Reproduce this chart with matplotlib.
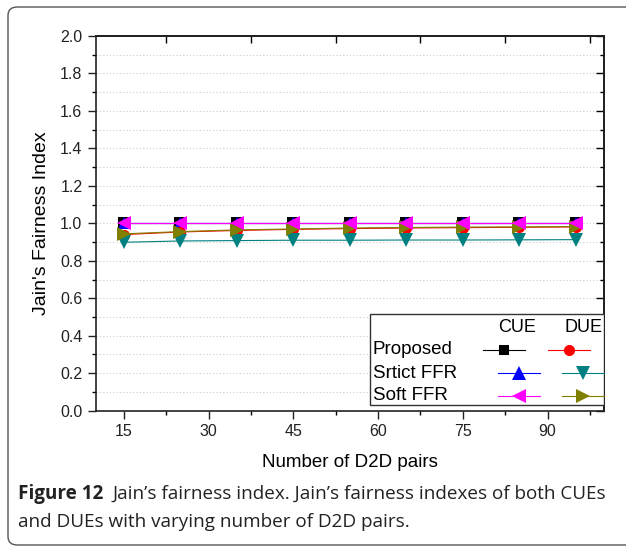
import matplotlib
matplotlib.use('Agg')
import matplotlib.pyplot as plt
from matplotlib.patches import FancyBboxPatch, Rectangle
from matplotlib.ticker import MultipleLocator, FixedLocator, FormatStrFormatter

# Jain's fairness index vs number of D2D pairs
pairs = [15, 25, 35, 45, 55, 65, 75, 85, 95]
proposed_cue = [1.0, 1.0, 1.0, 1.0, 1.0, 1.0, 1.0, 1.0, 1.0]
proposed_due = [0.940, 0.954, 0.962, 0.968, 0.972, 0.975, 0.977, 0.979, 0.981]
strict_cue = [1.0, 1.0, 1.0, 1.0, 1.0, 1.0, 1.0, 1.0, 1.0]
strict_due = [0.899, 0.906, 0.908, 0.910, 0.910, 0.911, 0.911, 0.912, 0.913]
soft_cue = [1.0, 1.0, 1.0, 1.0, 1.0, 1.0, 1.0, 1.0, 1.0]
soft_due = [0.944, 0.956, 0.965, 0.970, 0.975, 0.978, 0.980, 0.981, 0.983]

plt.rcParams['font.family'] = ['Liberation Sans', 'DejaVu Sans']

fig = plt.figure(figsize=(6.26, 5.5), dpi=100)
W, H = 626, 550

# rounded frame around figure + caption
frame = FancyBboxPatch((8 / W, 5 / H), 640 / W, 538 / H,
                       boxstyle='round,pad=0,rounding_size=0.015',
                       transform=fig.transFigure, fill=False,
                       edgecolor='#555555', linewidth=1.0)
fig.patches.append(frame)

AX_L, AX_R, AX_T, AX_B = 95.6, 604, 36, 410.7
ax = fig.add_axes([AX_L / W, (H - AX_B) / H, (AX_R - AX_L) / W, (AX_B - AX_T) / H])

series = [
    (proposed_cue, 'black', 's', 8, 2),
    (strict_cue, 'blue', '^', 9, 3),
    (proposed_due, 'red', 'o', 8, 4),
    (strict_due, '#008080', 'v', 10, 5),
    (soft_due, '#808000', '>', 10, 6),
    (soft_cue, '#ff00ff', '<', 10, 7),
]
for vals, col, mk, ms, z in series:
    ax.plot(pairs, vals, color=col, marker=mk, markersize=ms, linewidth=0.8,
            markeredgewidth=0, zorder=z)

ax.set_xlim(10, 100)
ax.set_ylim(0, 2.0)
ax.xaxis.set_major_locator(FixedLocator([15, 30, 45, 60, 75, 90]))
ax.xaxis.set_minor_locator(FixedLocator([22.5, 37.5, 52.5, 67.5, 82.5, 97.5]))
ax.yaxis.set_major_locator(MultipleLocator(0.2))
ax.yaxis.set_minor_locator(MultipleLocator(0.1))
ax.yaxis.set_major_formatter(FormatStrFormatter('%.1f'))

ax.tick_params(axis='both', which='major', direction='out', length=6, width=1,
               labelsize=11.5, colors='#222222')
ax.tick_params(axis='both', which='minor', direction='out', length=3, width=1)

for sp in ax.spines.values():
    sp.set_linewidth(1.2)
    sp.set_color('#222222')

# inward ticks on right side
ax_r = ax.secondary_yaxis('right')
ax_r.yaxis.set_major_locator(MultipleLocator(0.2))
ax_r.yaxis.set_minor_locator(MultipleLocator(0.1))
ax_r.tick_params(which='major', direction='in', length=6, width=1, labelright=False)
ax_r.tick_params(which='minor', direction='in', length=3, width=1)
ax_r.spines['right'].set_linewidth(1.2)

# inward ticks on top
ax_t = ax.secondary_xaxis('top')
ax_t.xaxis.set_major_locator(FixedLocator([22.5, 37.5, 52.5, 67.5, 82.5, 97.5]))
ax_t.tick_params(which='major', direction='in', length=5, width=1, labeltop=False)
ax_t.spines['top'].set_linewidth(1.2)

# dotted horizontal grid every 0.1
for gy in [i / 10 for i in range(1, 20)]:
    ax.axhline(gy, color='#cccccc', linestyle=(0, (1, 2)), linewidth=0.8, zorder=0)

ax.set_ylabel("Jain's Fairness Index", fontsize=14, labelpad=7)
ax.set_xlabel('Number of D2D pairs', fontsize=13.5, labelpad=11)


def ax_xy(px, py):
    return ((px - AX_L) / (AX_R - AX_L), (AX_B - py) / (AX_B - AX_T))


# custom legend box
x0, y0 = ax_xy(370, 314)
x1, y1 = ax_xy(604, 405)
ax.add_patch(Rectangle((x0, y1), x1 - x0, y0 - y1, transform=ax.transAxes,
                       facecolor='white', edgecolor='#333333', linewidth=1.0,
                       zorder=10))

for head, hx in (('CUE', 517), ('DUE', 584)):
    tx, ty = ax_xy(hx, 327)
    ax.text(tx, ty, head, transform=ax.transAxes, ha='center', va='center',
            fontsize=13, zorder=11)

rows = [
    ('Proposed', 350, ('black', 's', 7, 504), ('red', 'o', 8, 569)),
    ('Srtict FFR', 373, ('blue', '^', 10, 519), ('#008080', 'v', 10, 583)),
    ('Soft FFR', 396, ('#ff00ff', '<', 10, 519), ('#808000', '>', 10, 583)),
]
for label, py, cue, due in rows:
    tx, ty = ax_xy(373, py)
    ax.text(tx, ty, label, transform=ax.transAxes, ha='left', va='center',
            fontsize=13.5, zorder=11)
    for col, mk, ms, cx in (cue, due):
        xa, ya = ax_xy(cx - 21, py)
        xb, _ = ax_xy(min(cx + 21, AX_R), py)
        xc, _ = ax_xy(cx, py)
        ax.plot([xa, xb], [ya, ya], color=col, linewidth=0.8,
                transform=ax.transAxes, zorder=11, clip_on=False)
        ax.plot([xc], [ya], color=col, marker=mk, markersize=ms,
                markeredgewidth=0, transform=ax.transAxes, zorder=12,
                clip_on=False)

# caption
cap_font = ['Open Sans', 'DejaVu Sans']
b = fig.text(18 / W, 1 - 494 / H, 'Figure 12', fontsize=13.6, fontweight='bold',
             family=cap_font, va='center', ha='left', color='#222222')
fig.canvas.draw()
bb = b.get_window_extent()
fig.text(bb.x1 / W + 9 / W, 1 - 494 / H,
         "Jain\u2019s fairness index. Jain\u2019s fairness indexes of both CUEs",
         fontsize=13.6, family=cap_font, va='center', ha='left', color='#222222')
fig.text(18 / W, 1 - 522 / H, 'and DUEs with varying number of D2D pairs.',
         fontsize=13.6, family=cap_font, va='center', ha='left', color='#222222')

fig.savefig('out.png', dpi=100)
